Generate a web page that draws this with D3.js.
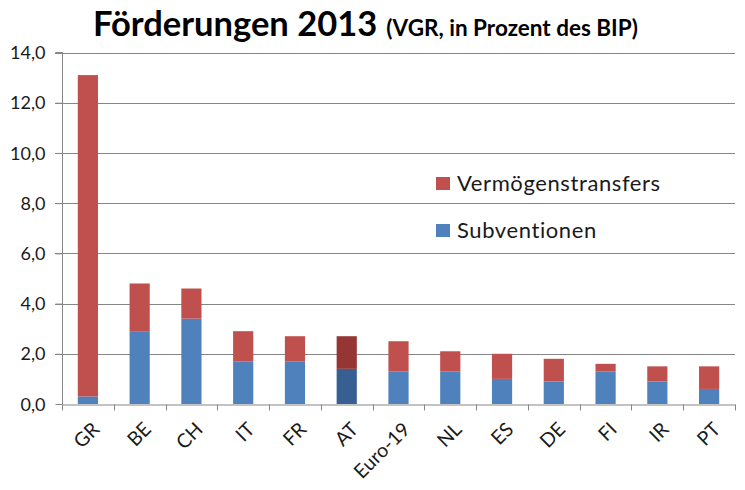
<!DOCTYPE html>
<html><head><meta charset="utf-8">
<script src="https://cdn.jsdelivr.net/npm/d3@7"></script>
<style>
body{margin:0;background:#fff;}
text{font-family:Lato, "Open Sans", sans-serif;}
</style></head>
<body><svg id="chart" width="745" height="490"></svg>
<script>
const categories = ["GR","BE","CH","IT","FR","AT","Euro-19","NL","ES","DE","FI","IR","PT"];
const subventionen = [0.3,2.9,3.4,1.7,1.7,1.4,1.3,1.3,1.0,0.9,1.3,0.9,0.6];
const totals =       [13.1,4.8,4.6,2.9,2.7,2.7,2.5,2.1,2.0,1.8,1.6,1.5,1.5];
const vermoegenstransfers = totals.map((t,i)=>+(t-subventionen[i]).toFixed(1));
const yTicks = [0,2,4,6,8,10,12,14];
const seriesNames = ["Vermögenstransfers","Subventionen"];
const highlight = "AT";

const colors = {sub:"#4F81BD", verm:"#C0504D", subHi:"#375F92", vermHi:"#963634"};

const svg = d3.select("#chart");
const m = {left:62, right:735, top:52.5, bottom:404};
const x = d3.scaleBand().domain(categories).range([m.left,m.right]).paddingInner(0.61).paddingOuter(0.305);
const xb = d3.scaleBand().domain(categories).range([m.left,m.right]);
const y = d3.scaleLinear().domain([0,14]).range([m.bottom,m.top]);

// gridlines
svg.append("g").selectAll("line").data(yTicks.filter(d=>d>0)).join("line")
  .attr("x1",m.left-7).attr("x2",m.right).attr("y1",d=>Math.round(y(d))+0.5).attr("y2",d=>Math.round(y(d))+0.5)
  .attr("stroke","#868686").attr("stroke-width",1);

// y axis
const yAxis = d3.axisLeft(y).tickValues(yTicks).tickSize(7).tickPadding(10)
  .tickFormat(d=>d3.format(".1f")(d).replace(".",","));
const gy = svg.append("g").attr("transform",`translate(${m.left+0.5},0)`).call(yAxis);
gy.select(".domain").attr("stroke","#868686").attr("d",`M-7,${y(14)}H0V${y(0)}`);
gy.selectAll(".tick line").attr("stroke","#868686");
gy.selectAll(".tick text").attr("font-size",18).attr("fill","#1a1a1a").attr("font-family","Lato").attr("dy","0.34em");

// bars
const g = svg.append("g");
categories.forEach((c,i)=>{
  const hi = c===highlight;
  g.append("rect").attr("x",x(c)).attr("width",x.bandwidth())
    .attr("y",y(subventionen[i])).attr("height",y(0)-y(subventionen[i]))
    .attr("fill",hi?colors.subHi:colors.sub);
  g.append("rect").attr("x",x(c)).attr("width",x.bandwidth())
    .attr("y",y(totals[i])).attr("height",y(subventionen[i])-y(totals[i]))
    .attr("fill",hi?colors.vermHi:colors.verm);
});

// x axis
const xAxis = d3.axisBottom(xb).tickSize(0).tickFormat("");
const gx = svg.append("g").attr("transform",`translate(0,${m.bottom+0.5})`).call(xAxis);
gx.select(".domain").attr("stroke","#868686");
gx.selectAll(".tick").remove();
gx.selectAll(".bt").data(categories.concat(["__end"])).join("line")
  .attr("x1",(d,i)=>Math.round(m.left+i*xb.bandwidth())+0.5)
  .attr("x2",(d,i)=>Math.round(m.left+i*xb.bandwidth())+0.5)
  .attr("y1",0).attr("y2",6).attr("stroke","#868686");

// x labels
svg.append("g").selectAll("text").data(categories).join("text")
  .attr("transform",d=>`translate(${x(d)+x.bandwidth()/2+3},${m.bottom+17}) rotate(-45)`)
  .attr("text-anchor","end").attr("font-size",19.5).attr("fill","#1a1a1a")
  .attr("dy","0.7em")
  .text(d=>d);

// title
const t = svg.append("text").attr("x",93).attr("y",36).attr("fill","#000");
t.append("tspan").attr("font-size",34.5).attr("font-weight","bold").text("Förderungen 2013");
t.append("tspan").attr("font-size",22.5).attr("font-weight","bold").attr("dx",9).text("(VGR, in Prozent des BIP)");

// legend
const leg = svg.append("g");
const legColors = [colors.verm, colors.sub];
seriesNames.forEach((s,i)=>{
  leg.append("rect").attr("x",436).attr("y",177+i*47).attr("width",14).attr("height",13).attr("fill",legColors[i]);
  leg.append("text").attr("x",457).attr("y",191+i*47).attr("font-size",22).attr("letter-spacing",0.6).attr("fill","#1a1a1a").text(s);
});
</script></body></html>
